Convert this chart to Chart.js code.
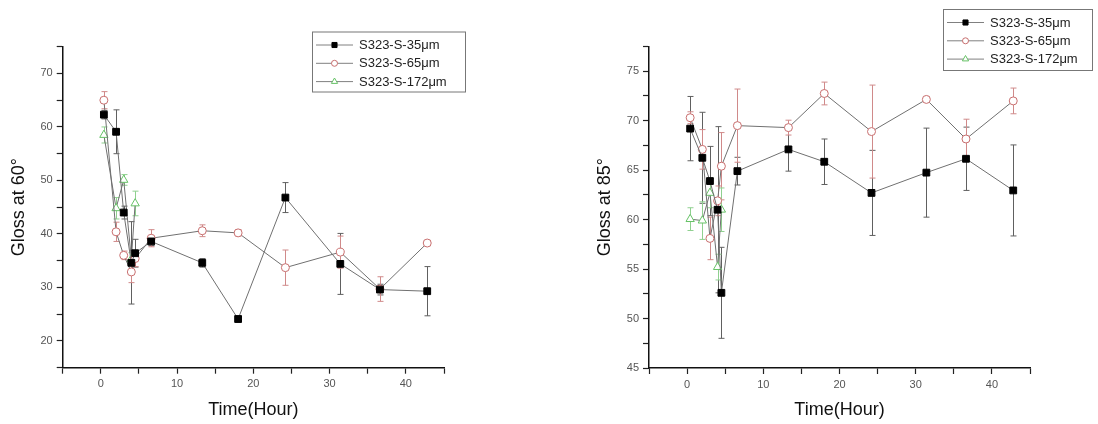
<!DOCTYPE html>
<html lang="en">
<head>
<meta charset="UTF-8">
<title>Gloss vs time</title>
<style>
    body { margin: 0; background: #fff; }
    .wrap { position: relative; width: 1098px; height: 424px; }
    canvas { position: absolute; top: 0; }
    #left { left: 0; }
    #right { left: 549px; }
</style>
</head>
<body>
<div class="wrap">
    <canvas id="left" width="549" height="424"></canvas>
    <canvas id="right" width="549" height="424"></canvas>
</div>
<script src="https://cdn.jsdelivr.net/npm/chart.js@4"></script>
<script>
// sampling times (hours)
const hours = [0.4, 2, 3, 4, 4.5, 6.6, 13.3, 18, 24.2, 31.4, 36.6, 42.8];
const seriesNames = ['S323-S-35\u03bcm', 'S323-S-65\u03bcm', 'S323-S-172\u03bcm'];

// gloss at 60 degrees
const g60_35 = [62.3, 59.1, 44.0, 34.6, 36.4, 38.6, 34.6, 24.1, 46.8, 34.4, 29.6, 29.3];
const g60_35err = [0.8, 4.1, 1.2, 7.7, 2.6, 0.8, 0.8, 0.5, 2.8, 5.7, 1.0, 4.6];
const g60_65 = [65.0, 40.4, 36.0, 32.9, 35.4, 39.2, 40.6, 40.2, 33.7, 36.6, 29.7, 38.3];
const g60_65err = [1.6, 1.8, 0.8, 2.0, 1.5, 1.6, 1.1, 0.6, 3.3, 3.0, 2.3, 0.5];
const g60_172 = [58.5, 44.8, 50.1, 35.3, 45.7];
const g60_172err = [1.5, 2.0, 1.0, 1.2, 2.3];

// gloss at 85 degrees
const g85_35 = [69.2, 66.25, 63.9, 61.0, 52.6, 64.9, 67.1, 65.85, 62.7, 64.75, 66.15, 62.95];
const g85_35err = [3.25, 4.6, 3.5, 8.4, 4.6, 1.4, 2.2, 2.3, 4.3, 4.5, 3.2, 4.6];
const g85_65 = [70.3, 67.1, 58.1, 61.9, 65.4, 69.5, 69.3, 72.75, 68.9, 72.15, 68.15, 72.0];
const g85_65err = [0.6, 2.0, 2.15, 1.5, 3.4, 3.7, 0.75, 1.15, 4.7, 0.3, 2.0, 1.3];
const g85_172 = [60.05, 59.9, 62.7, 55.2, 61.0];
const g85_172err = [1.15, 1.9, 1.5, 1.3, 2.2];

const FONT = 'Arial, "Liberation Sans", sans-serif';

// vertical error bars, drawn under the markers
const errorBars = {
    id: 'errorBars',
    beforeDatasetsDraw(chart) {
        const ctx = chart.ctx;
        const xs = chart.scales.x, ys = chart.scales.y;
        ctx.save();
        chart.data.datasets.forEach(ds => {
            if (!ds.errors) return;
            ctx.strokeStyle = ds.errColor;
            ctx.lineWidth = 1;
            ds.data.forEach((p, i) => {
                const e = ds.errors[i];
                const x = Math.round(xs.getPixelForValue(p.x)) + 0.5;
                const y1 = ys.getPixelForValue(p.y + e);
                const y2 = ys.getPixelForValue(p.y - e);
                ctx.beginPath();
                ctx.moveTo(x, y1); ctx.lineTo(x, y2);
                ctx.moveTo(x - 3, y1); ctx.lineTo(x + 3, y1);
                ctx.moveTo(x - 3, y2); ctx.lineTo(x + 3, y2);
                ctx.stroke();
            });
        });
        ctx.restore();
    }
};

// boxed legend in the Origin style: line - marker - line, then name
const boxLegend = {
    id: 'boxLegend',
    afterDraw(chart, args, opts) {
        const ctx = chart.ctx;
        const {x, y, w, h} = opts;
        ctx.save();
        ctx.fillStyle = '#fff';
        ctx.fillRect(x, y, w, h);
        ctx.strokeStyle = '#777';
        ctx.lineWidth = 1;
        ctx.strokeRect(x + 0.5, y + 0.5, w, h);
        chart.data.datasets.forEach((ds, i) => {
            const ry = y + 13.5 + i * 18.3;
            ctx.strokeStyle = '#808080';
            ctx.beginPath();
            ctx.moveTo(x + 4, ry); ctx.lineTo(x + 41, ry);
            ctx.stroke();
            ctx.fillStyle = ds.pointBackgroundColor;
            ctx.strokeStyle = ds.pointBorderColor;
            Chart.helpers.drawPoint(ctx, {pointStyle: ds.pointStyle, radius: ds.pointRadius * 0.75, borderWidth: 1}, x + 22.5, ry);
            ctx.fillStyle = '#222';
            ctx.font = '13px ' + FONT;
            ctx.textBaseline = 'middle';
            ctx.fillText(ds.label, x + 47, ry + 0.5);
        });
        ctx.restore();
    }
};

function makeSets(a, aErr, b, bErr, c, cErr) {
    const pts = vals => vals.map((v, i) => ({x: hours[i], y: v}));
    const base = {showLine: true, borderColor: '#707070', borderWidth: 1, tension: 0, pointBorderWidth: 1};
    return [
        Object.assign({}, base, {label: seriesNames[0], data: pts(a), errors: aErr, errColor: '#606060',
            pointStyle: 'rect', pointRadius: 4.8, pointBackgroundColor: '#000', pointBorderColor: '#000'}),
        Object.assign({}, base, {label: seriesNames[1], data: pts(b), errors: bErr, errColor: '#d08a8a',
            pointStyle: 'circle', pointRadius: 4, pointBackgroundColor: '#fff', pointBorderColor: '#c86e6e'}),
        Object.assign({}, base, {label: seriesNames[2], data: pts(c), errors: cErr, errColor: '#8fd08f',
            pointStyle: 'triangle', pointRadius: 4.8, pointBackgroundColor: '#fff', pointBorderColor: '#66c266'})
    ];
}

function axisLook(extra) {
    return Object.assign({
        type: 'linear',
        border: {display: true, color: '#111', width: 1.5},
        grid: {drawOnChartArea: false, drawTicks: true, tickLength: 6, tickColor: '#222', tickWidth: 1.2}
    }, extra);
}

function makeChart(id, sets, yMin, yMax, yStep, yLabelEvery, yTitle, pad, legendBox, xHeight) {
    return new Chart(document.getElementById(id), {
        type: 'scatter',
        data: {datasets: sets},
        options: {
            responsive: false,
            animation: false,
            devicePixelRatio: 1,
            layout: {padding: pad},
            plugins: {legend: {display: false}, tooltip: {enabled: false}, boxLegend: legendBox},
            scales: {
                x: axisLook({
                    min: -5, max: 45,
                    ticks: {color: '#555', font: {family: FONT, size: 11}, padding: 4, autoSkip: false, maxRotation: 0,
                        stepSize: 5,
                        callback: v => (v % 10 === 0 && v >= 0 && v <= 40) ? v : ''},
                    title: {display: true, text: 'Time(Hour)', color: '#111', font: {family: FONT, size: 18},
                        padding: {top: 0, bottom: 3}},
                    afterFit: s => { s.height = xHeight; }
                }),
                y: axisLook({
                    min: yMin, max: yMax,
                    ticks: {color: '#555', font: {family: FONT, size: 11}, padding: 4, autoSkip: false,
                        stepSize: yStep,
                        callback: v => (v % yLabelEvery === 0 && v < yMax) ? v : ''},
                    title: {display: true, text: yTitle, color: '#111', font: {family: FONT, size: 18},
                        padding: {top: 8, bottom: 0}},
                    afterFit: s => { s.width = 62.7; }
                })
            }
        },
        plugins: [errorBars, boxLegend]
    });
}

makeChart('left', makeSets(g60_35, g60_35err, g60_65, g60_65err, g60_172, g60_172err),
    15, 75, 5, 10, 'Gloss at 60\u00b0',
    {left: 0, top: 46.7, right: 105, bottom: 0},
    {x: 312, y: 31.5, w: 153, h: 60}, 56.3);

makeChart('right', makeSets(g85_35, g85_35err, g85_65, g85_65err, g85_172, g85_172err),
    45, 77.5, 2.5, 5, 'Gloss at 85\u00b0',
    {left: 37.3, top: 46.5, right: 68, bottom: 0},
    {x: 394, y: 9, w: 149, h: 61}, 56);
</script>
</body>
</html>
